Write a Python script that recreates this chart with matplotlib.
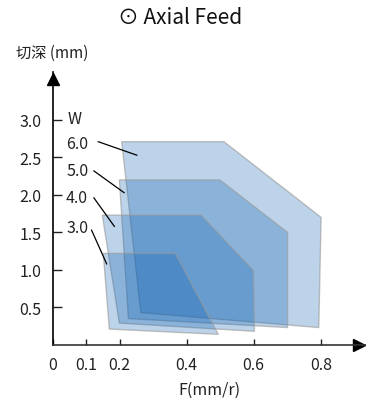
import numpy as np
import matplotlib
matplotlib.use("Agg")
import matplotlib.pyplot as plt
from matplotlib.patches import Polygon

plt.rcParams['font.family'] = ['Noto Sans CJK SC', 'DejaVu Sans']

# 切削范围 (W = 6.0, 5.0, 4.0, 3.0)
widths = ["6.0", "5.0", "4.0", "3.0"]
feed_6 = [0.206, 0.511, 0.801, 0.794, 0.263]
depth_6 = [2.71, 2.71, 1.70, 0.23, 0.43]
feed_5 = [0.199, 0.499, 0.701, 0.701, 0.226]
depth_5 = [2.20, 2.20, 1.50, 0.23, 0.35]
feed_4 = [0.148, 0.443, 0.599, 0.602, 0.199]
depth_4 = [1.73, 1.73, 0.99, 0.18, 0.29]
feed_3 = [0.151, 0.366, 0.494, 0.169]
depth_3 = [1.22, 1.22, 0.14, 0.21]

# 标签位置和引线
label_y = [2.69, 2.32, 1.96, 1.57]
leader_start = [(0.136, 2.71), (0.123, 2.32), (0.123, 1.96), (0.116, 1.53)]
leader_end = [(0.251, 2.53), (0.213, 2.03), (0.184, 1.58), (0.161, 1.08)]

xticks = [0, 0.1, 0.2, 0.4, 0.6, 0.8]
xticklabels = ["0", "0.1", "0.2", "0.4", "0.6", "0.8"]
yticks = [0.5, 1.0, 1.5, 2.0, 2.5, 3.0]

fig = plt.figure(figsize=(3.66, 4.02), dpi=100)
ax = fig.add_axes([0.144, 0.1398, 0.856, 0.6786])
ax.set_xlim(0, 0.935)
ax.set_ylim(0, 3.64)

for fx, dy in [(feed_6, depth_6), (feed_5, depth_5), (feed_4, depth_4), (feed_3, depth_3)]:
    poly = Polygon(np.column_stack([fx, dy]), closed=True,
                   facecolor=(0.04, 0.374, 0.696, 0.27),
                   edgecolor=(0.6, 0.6, 0.6, 0.6), linewidth=1.0)
    ax.add_patch(poly)

for w, ly, s, e in zip(widths, label_y, leader_start, leader_end):
    ax.text(0.040, ly, w, fontsize=11.5, ha='left', va='center', color='#222222')
    ax.plot([s[0], e[0]], [s[1], e[1]], color='black', linewidth=0.9)
ax.text(0.044, 3.02, "W", fontsize=11.5, ha='left', va='center', color='#222222')

ax.spines['top'].set_visible(False)
ax.spines['right'].set_visible(False)
ax.spines['left'].set_linewidth(1.2)
ax.spines['bottom'].set_linewidth(1.2)
ax.spines['bottom'].set_color('#333333')
ax.plot(0, 3.54, marker='^', markersize=9, color='black', clip_on=False)
ax.plot(0.915, 0, marker='>', markersize=9, color='black', clip_on=False)

ax.set_xticks(xticks)
ax.set_xticklabels(xticklabels)
ax.set_yticks(yticks)
ax.set_yticklabels([f"{v:.1f}" for v in yticks])
ax.tick_params(axis='y', direction='in', length=6.5, width=1.0, labelsize=11.5, pad=8, colors='#222222')
ax.tick_params(axis='x', direction='in', length=4.5, width=1.0, labelsize=11.5, pad=8, colors='#222222')

ax.set_xlabel("F(mm/r)", fontsize=11.5, color='#222222', labelpad=6)
fig.text(0.044, 0.868, "切深 (mm)", fontsize=11, ha='left', va='center', color='#222222')
fig.text(0.492, 0.955, "⊙ Axial Feed", fontsize=15, ha='center', va='center', color='#111111')

fig.savefig("out.png", dpi=100)
